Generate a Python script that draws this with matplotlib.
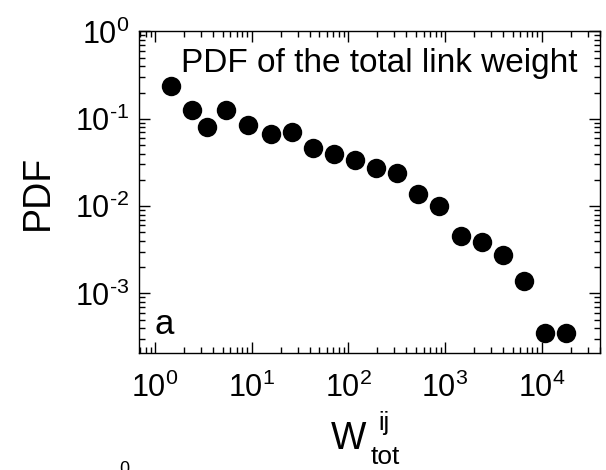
import matplotlib
matplotlib.use("Agg")
from matplotlib import pyplot as plt
from matplotlib.ticker import LogLocator, NullFormatter, FuncFormatter
import numpy as np

# total link weight bins and their PDF values
w_tot = [1.45, 2.4, 3.43, 5.39, 9.24, 15.7, 25.9, 42.8, 71, 117,
         193, 316, 530, 873, 1452, 2393, 3955, 6561, 10820, 17740]
pdf = [0.240, 0.125, 0.080, 0.127, 0.086, 0.0674, 0.0703, 0.0467, 0.0391, 0.034,
       0.0272, 0.0239, 0.0136, 0.0100, 0.00452, 0.00389, 0.00279, 0.00139,
       0.000349, 0.000349]

plt.rcParams["font.family"] = ["Liberation Sans", "DejaVu Sans"]
plt.rcParams["mathtext.fontset"] = "custom"
plt.rcParams["mathtext.rm"] = "Liberation Sans"
plt.rcParams["mathtext.it"] = "Liberation Sans"

W, H = 606, 470


def px(x, y):
    # pixel position (from top-left) -> figure fraction
    return x / W, 1 - y / H


def pow10(v, pos):
    e = int(round(np.log10(v)))
    s = str(e).replace("-", "\u2010")
    return r"$\mathregular{10^{%s}}$" % s


fig = plt.figure(figsize=(W / 100, H / 100), dpi=100)
ax = fig.add_axes([0.23, 0.249, 0.76, 0.684])

ax.plot(w_tot, pdf, "o", color="black", markersize=14, markeredgewidth=0)

ax.set_xscale("log")
ax.set_yscale("log")
ax.set_xlim(0.69, 40100)
ax.set_ylim(2.08e-4, 1.0)

ax.xaxis.set_major_locator(LogLocator(base=10, numticks=10))
ax.yaxis.set_major_locator(LogLocator(base=10, numticks=10))
ax.xaxis.set_minor_locator(LogLocator(base=10, subs=range(2, 10), numticks=20))
ax.yaxis.set_minor_locator(LogLocator(base=10, subs=range(2, 10), numticks=20))
ax.xaxis.set_major_formatter(FuncFormatter(pow10))
ax.yaxis.set_major_formatter(FuncFormatter(pow10))
ax.xaxis.set_minor_formatter(NullFormatter())
ax.yaxis.set_minor_formatter(NullFormatter())

ax.tick_params(which="both", direction="in", top=True, right=True, width=1)
ax.tick_params(which="major", length=8, labelsize=22)
ax.tick_params(axis="x", which="major", pad=14)
ax.tick_params(axis="y", which="major", pad=7)
ax.tick_params(which="minor", length=4)
for s in ax.spines.values():
    s.set_linewidth(1)

ax.set_ylabel("PDF", fontsize=27, labelpad=14)

# x label: W with ij above and tot below
fig.text(*px(349, 449), "W", fontsize=27, ha="center", va="baseline")
fig.text(*px(378, 430), "ij", fontsize=18, ha="left", va="baseline")
fig.text(*px(371, 464), "tot", fontsize=19, ha="left", va="baseline")

ax.text(0.952, 0.875, "PDF of the total link weight", transform=ax.transAxes,
        ha="right", va="baseline", fontsize=24)
ax.text(0.032, 0.059, "a", transform=ax.transAxes, ha="left", va="baseline",
        fontsize=25)

# top of a label from the panel below, cut by the image edge
fig.text(0.205, -0.017, "0", fontsize=13, ha="center", va="bottom")

fig.savefig("out.png", dpi=100)
